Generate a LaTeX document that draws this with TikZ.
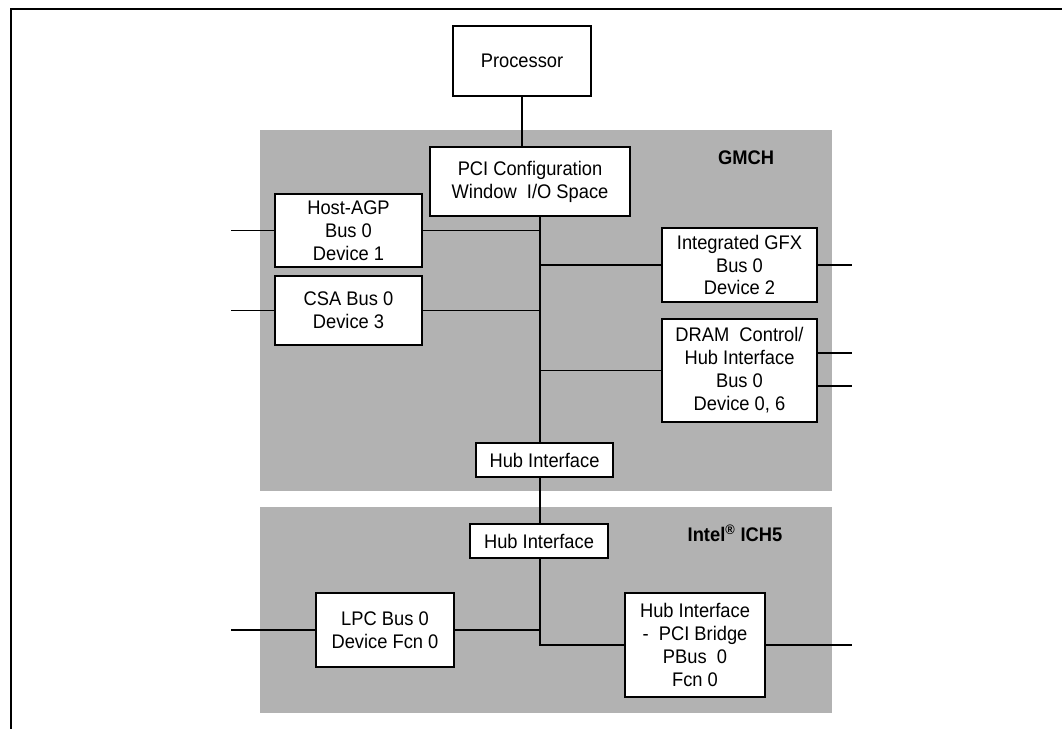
\documentclass[tikz,border=0pt]{standalone}
\usepackage{fontspec}
\setmainfont{Liberation Sans}[FakeStretch=0.93]
\usetikzlibrary{calc}
\tikzset{
  blk/.style  ={draw=black,fill=white,line width=0.9pt,align=center,
                inner sep=0pt,font=\fontsize{14}{16.3}\selectfont},
  chip/.style ={fill=black!30,inner sep=0pt},
  tag/.style  ={font=\fontsize{14}{16}\selectfont\bfseries,inner sep=0pt},
  wire/.style ={draw=black,line width=0.95pt},
  frame/.style={draw=black,line width=1.8pt},
}

\begin{document}
\begin{tikzpicture}[x=0.025cm, y=-0.025cm]

\useasboundingbox (0,0) rectangle (1062,728);
\draw[frame] (11,740) -- (11,9) -- (1070,9);

%% ---------------- chip regions ----------------
\node[chip,minimum width=14.3cm,minimum height=9.025cm] (gmch) at (546,310.5) {};
\node[chip,minimum width=14.3cm,minimum height=5.15cm]  (ich)  at (546,610) {};
\node[tag] (gmchlbl) at (746,158) {GMCH};
\node[tag] (ichlbl)  at (735,533) {Intel\textsuperscript{®} ICH5};

%% ---------------- blocks ----------------
\node[blk,minimum width=3.45cm, minimum height=1.75cm]  (proc) at (522,61)    {Processor};
\node[blk,minimum width=5.0cm,  minimum height=1.725cm] (pci)  at (530,181.5) {PCI Configuration\\Window\ \ I/O Space};
\node[blk,minimum width=3.675cm,minimum height=1.825cm] (agp)  at (348.5,230.5) {Host-AGP\\Bus 0\\Device 1};
\node[blk,minimum width=3.675cm,minimum height=1.725cm] (csa)  at (348.5,310.5) {CSA Bus 0\\Device 3};
\node[blk,minimum width=3.875cm,minimum height=1.85cm]  (gfx)  at (739.5,265)   {Integrated GFX\\Bus 0\\Device 2};
\node[blk,minimum width=3.875cm,minimum height=2.575cm] (dram) at (739.5,370.5) {DRAM\ \ Control/\\Hub Interface\\Bus 0\\Device 0, 6};
\node[blk,minimum width=3.425cm,minimum height=0.85cm]  (hubA) at (544.5,460) {Hub Interface};
\node[blk,minimum width=3.45cm, minimum height=0.85cm]  (hubB) at (539,541)   {Hub Interface};
\node[blk,minimum width=3.45cm, minimum height=1.85cm]  (lpc)  at (385,630)   {LPC Bus 0\\Device Fcn 0};
\node[blk,minimum width=3.5cm,  minimum height=2.6cm]   (brdg) at (695,645)   {Hub Interface\\-\ \ PCI Bridge\\PBus\ \ 0\\Fcn 0};

%% ---------------- bus and stubs ----------------
\coordinate (bus)   at (540,0);
\coordinate (lside) at (231,0);
\coordinate (rside) at (852,0);

\draw[wire] (proc.south) -- (proc.south |- pci.north);
\draw[wire] (pci.south -| bus) -- (hubA.north -| bus);
\draw[wire] (hubA.south -| bus) -- (hubB.north -| bus);
\draw[wire] (hubB.south -| bus) |- (brdg.west);

\foreach \b in {agp, csa}{
  \draw[wire] (\b.east) -- (\b.east -| bus);
  \draw[wire] (\b.west) -- (\b.west -| lside);
}
\foreach \b in {gfx, dram}{
  \draw[wire] (\b.west) -- (\b.west -| bus);
}
\draw[wire] (lpc.east) -- (lpc.east -| bus);
\draw[wire] (lpc.west) -- (lpc.west -| lside);

\draw[wire] (gfx.east) -- (gfx.east -| rside);
\draw[wire] ($(dram.east)+(0,-17.5)$) -- ($(dram.east -| rside)+(0,-17.5)$);
\draw[wire] ($(dram.east)+(0,15.5)$)  -- ($(dram.east -| rside)+(0,15.5)$);
\draw[wire] (brdg.east) -- (brdg.east -| rside);

\end{tikzpicture}
\end{document}
